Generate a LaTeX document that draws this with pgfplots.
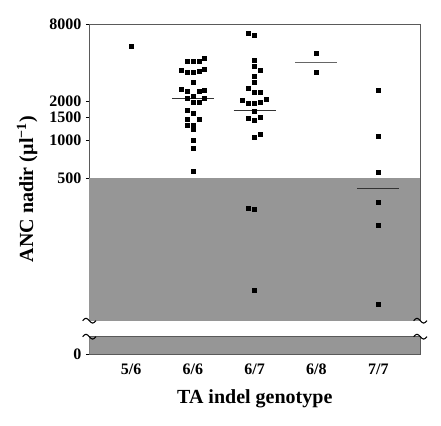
\documentclass[border=0pt]{standalone}
\usepackage{fontspec}
\setmainfont{Liberation Serif}
\usepackage{pgfplots}
\pgfplotsset{compat=1.18}
\definecolor{shade}{RGB}{150,150,150}
\definecolor{frame}{RGB}{90,90,90}

\begin{document}
\begin{tikzpicture}
\useasboundingbox (0,0) rectangle (330.75pt,318.75pt);
\pgfplotsset{
  every axis/.append style={
    scale only axis, anchor=south west,
    width=248.25pt, xmin=0.325, xmax=5.68,
    axis line style={frame, line width=0.6pt},
    tick align=outside, major tick length=2.5pt,
    tick style={black, line width=0.6pt},
    ytick pos=left, xtick pos=bottom,
    tick label style={font=\fontsize{12}{14}\selectfont\bfseries},
    label style={font=\fontsize{15}{18}\selectfont\bfseries},
  },
}
% main panel (log scale)
\begin{axis}[
  at={(66.975pt,78.225pt)}, height=222.3pt,
  ymode=log, ymin=38.7, ymax=8000,
  ytick={500,1000,1500,2000,8000},
  yticklabels={500,1000,1500,2000,8000},
  xtick=\empty,
  ylabel={ANC nadir (µl\textsuperscript{−1})},
  ylabel style={at={(axis description cs:-0.188,0.444)}, anchor=center},
  clip=false,
]
\addplot[fill=shade, draw=none] coordinates {(0.325,38.7) (5.68,38.7) (5.68,500) (0.325,500)} -- cycle;
% 5/6
\addplot[only marks, mark=square*, mark size=1.5pt, black] coordinates {(1,5346)};
% 6/6
\addplot[only marks, mark=square*, mark size=1.5pt, black] coordinates {
 (2.18,4362)
 (1.903,4081) (2,4081) (2.097,4081)
 (1.81,3516) (1.903,3374) (2,3374) (2.097,3454) (2.18,3561)
 (2,2818)
 (1.81,2466) (1.903,2397) (2.097,2410) (2.18,2453)
 (2,2203)
 (1.903,2098) (2.18,2125)
 (2,1952) (2.097,1952)
 (1.903,1713)
 (2,1613)
 (1.903,1456) (2.097,1456)
 (1.903,1307) (2,1307)
 (2,1217)
 (2,998)
 (2,859)
 (2,564)
};
% 6/7
\addplot[only marks, mark=square*, mark size=1.5pt, black] coordinates {
 (2.903,6804) (3,6601)
 (3,4209)
 (3,3778)
 (3.097,3497)
 (3,3157)
 (3,2798)
 (2.903,2544)
 (3,2337) (3.097,2354)
 (2.806,2038) (2.903,1917) (3,1917) (3.097,1952) (3.194,2087)
 (3,1682)
 (2.903,1474) (3,1430) (3.097,1490)
 (3,1048) (3.097,1112)
 (2.903,292) (3,288)
 (3,67)
};
% 6/8
\addplot[only marks, mark=square*, mark size=1.5pt, black] coordinates {(4,4747) (4,3350)};
% 7/7
\addplot[only marks, mark=square*, mark size=1.5pt, black] coordinates {
 (5,2453) (5,1059) (5,558) (5,326) (5,214) (5,52)
};
% medians
\addplot[black!80, line width=0.7pt] coordinates {(1.66,2124) (2.34,2124)};
\addplot[black!80, line width=0.7pt] coordinates {(2.66,1702) (3.34,1702)};
\addplot[black!60, line width=0.7pt] coordinates {(3.66,4010) (4.34,4010)};
\addplot[black!80, line width=0.7pt] coordinates {(4.66,416) (5.34,416)};
\end{axis}

% lower panel (zero)
\begin{axis}[
  at={(66.975pt,52.95pt)}, height=13.275pt,
  ymin=0, ymax=1, ytick={0}, yticklabels={0},
  xtick={1,2,3,4,5},
  xticklabels={5/6,6/6,6/7,6/8,7/7},
  x tick style={draw=none},
  xticklabel style={anchor=center, yshift=-9pt},
  xlabel={TA indel genotype},
  xlabel style={at={(axis description cs:0.5,0)}, anchor=center, yshift=-33pt},
]
\addplot[fill=shade, draw=none] coordinates {(0.325,0) (5.68,0) (5.68,1) (0.325,1)} -- cycle;
\end{axis}

% axis break marks
\foreach \xx in {66.975pt,315.225pt}{
  \foreach \yy in {78.225pt,66.225pt}{
    \draw[black, line width=0.8pt] ([xshift=-5pt]\xx,\yy) sin ([xshift=-2.5pt,yshift=1.8pt]\xx,\yy)
      cos (\xx,\yy) sin ([xshift=2.5pt,yshift=-1.8pt]\xx,\yy) cos ([xshift=5pt]\xx,\yy);
  }
}
\end{tikzpicture}
\end{document}
